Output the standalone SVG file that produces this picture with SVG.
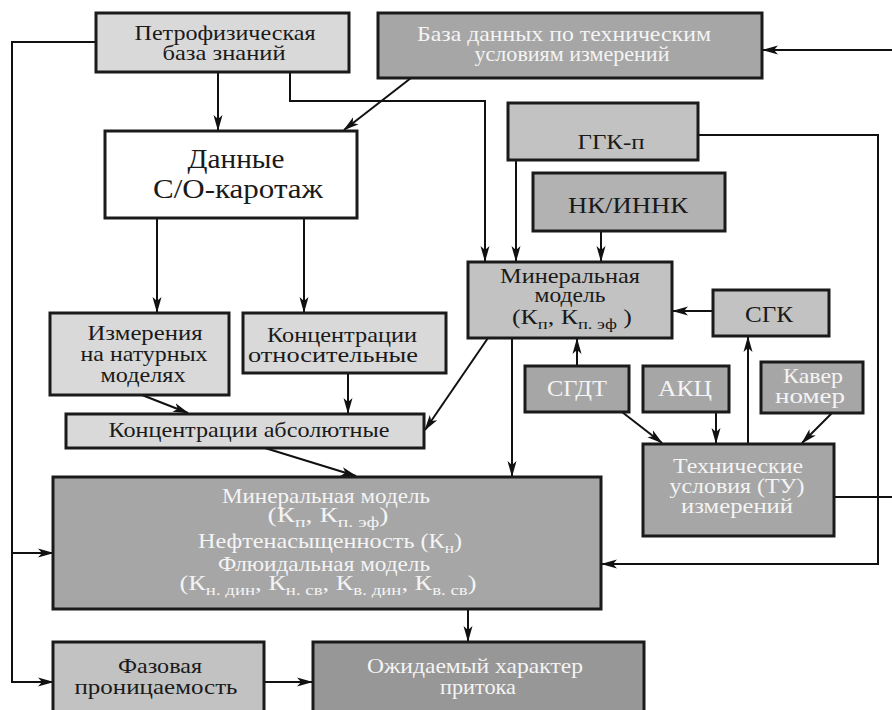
<svg xmlns="http://www.w3.org/2000/svg" width="892" height="710" viewBox="0 0 892 710" font-family="'Liberation Serif', 'Times New Roman', Tinos, 'DejaVu Serif', serif">
<defs>
<marker id="ah" markerWidth="16" markerHeight="10" refX="15" refY="5" orient="auto" markerUnits="userSpaceOnUse">
<path d="M0,0.5 L16,5 L0,9.5 L4,5 Z" fill="#111"/>
</marker>
</defs>
<style>
.b{stroke:#1a1a1a;stroke-width:3}
.l1{fill:#d9d9d9}
.l2{fill:#c2c2c2}
.l3{fill:#b2b2b2}
.d1{fill:#a6a6a6}
.d2{fill:#979797}
.w{fill:#fff}
text{font-size:21px;text-anchor:middle;fill:#1a1a1a}
.wt{fill:#f4f4f4}
.s{font-size:15px}
.c{fill:none;stroke:#111;stroke-width:2}
.a{marker-end:url(#ah)}
</style>
<rect width="892" height="710" fill="#fff"/>
<g id="connectors">
<polyline class="c a" points="96,42 12,42 12,682 53,682"/>
<polyline class="c a" points="12,553 53,553"/>
<line class="c a" x1="892" y1="50" x2="763" y2="50"/>
<line class="c a" x1="218" y1="72" x2="218" y2="130"/>
<polyline class="c a" points="290,72 290,101 485,101 485,261"/>
<line class="c a" x1="411" y1="78" x2="344" y2="130"/>
<line class="c a" x1="157" y1="218" x2="157" y2="312"/>
<line class="c a" x1="304" y1="218" x2="304" y2="312"/>
<line class="c a" x1="348" y1="373" x2="348" y2="413"/>
<line class="c a" x1="142" y1="395" x2="188" y2="413"/>
<line class="c a" x1="488" y1="338" x2="425" y2="430"/>
<line class="c a" x1="265" y1="448" x2="356" y2="476"/>
<line class="c a" x1="516" y1="160" x2="516" y2="261"/>
<line class="c a" x1="601" y1="231" x2="601" y2="261"/>
<polyline class="c a" points="698,135 878,135 878,564 602,564"/>
<line class="c a" x1="713" y1="311" x2="673" y2="311"/>
<line class="c a" x1="577" y1="366" x2="577" y2="339"/>
<line class="c a" x1="622" y1="412" x2="662" y2="443"/>
<line class="c a" x1="716" y1="412" x2="716" y2="443"/>
<line class="c a" x1="832" y1="413" x2="802" y2="443"/>
<line class="c a" x1="748" y1="444" x2="748" y2="337"/>
<line class="c" x1="834" y1="497" x2="892" y2="497"/>
<line class="c a" x1="512" y1="338" x2="512" y2="476"/>
<line class="c a" x1="468" y1="609" x2="468" y2="641"/>
<line class="c a" x1="264" y1="682" x2="312" y2="682"/>
</g>
<g id="petro">
<rect class="b l1" x="96" y="13" width="253" height="59"/>
<text x="225" y="40" textLength="181" lengthAdjust="spacingAndGlyphs">Петрофизическая</text>
<text x="224" y="60" textLength="123" lengthAdjust="spacingAndGlyphs">база знаний</text>
</g>
<g id="bd_tu">
<rect class="b d1" x="378" y="13" width="384" height="65"/>
<text class="wt" x="564" y="41" textLength="294" lengthAdjust="spacingAndGlyphs">База данных по техническим</text>
<text class="wt" x="572" y="61" textLength="195" lengthAdjust="spacingAndGlyphs">условиям измерений</text>
</g>
<g id="dannye">
<rect class="b w" x="105" y="131" width="252" height="87"/>
<text x="236" y="168" style="font-size:28px" textLength="97" lengthAdjust="spacingAndGlyphs">Данные</text>
<text x="238" y="198" style="font-size:28px" textLength="170" lengthAdjust="spacingAndGlyphs">С/О-каротаж</text>
</g>
<g id="ggk">
<rect class="b l2" x="508" y="103" width="190" height="57"/>
<text x="611" y="149" textLength="67" lengthAdjust="spacingAndGlyphs">ГГК-п</text>
</g>
<g id="nk">
<rect class="b l3" x="533" y="173" width="192" height="58"/>
<text x="628" y="213" style="font-size:24px" textLength="120" lengthAdjust="spacingAndGlyphs">НК/ИННК</text>
</g>
<g id="min_small">
<rect class="b l2" x="468" y="262" width="204" height="76"/>
<text x="570" y="283" textLength="140" lengthAdjust="spacingAndGlyphs">Минеральная</text>
<text x="570" y="302" textLength="71" lengthAdjust="spacingAndGlyphs">модель</text>
<text x="572" y="324" textLength="120" lengthAdjust="spacingAndGlyphs">(К<tspan dy="5" class="s">п</tspan><tspan dy="-5">,  К</tspan><tspan dy="5" class="s">п. эф</tspan><tspan dy="-5"> )</tspan></text>
</g>
<g id="sgk">
<rect class="b l2" x="713" y="290" width="116" height="46"/>
<text x="769" y="322" style="font-size:23px" textLength="48" lengthAdjust="spacingAndGlyphs">СГК</text>
</g>
<g id="sgdt">
<rect class="b d1" x="525" y="366" width="104" height="46"/>
<text class="wt" x="577" y="396" style="font-size:23px" textLength="60" lengthAdjust="spacingAndGlyphs">СГДТ</text>
</g>
<g id="akc">
<rect class="b d1" x="643" y="366" width="86" height="46"/>
<text class="wt" x="685" y="396" style="font-size:23px" textLength="54" lengthAdjust="spacingAndGlyphs">АКЦ</text>
</g>
<g id="kaver">
<rect class="b d1" x="761" y="362" width="102" height="51"/>
<text class="wt" x="813" y="383" textLength="60" lengthAdjust="spacingAndGlyphs">Кавер</text>
<text class="wt" x="810" y="403" textLength="70" lengthAdjust="spacingAndGlyphs">номер</text>
</g>
<g id="tu">
<rect class="b d1" x="643" y="444" width="191" height="92"/>
<text class="wt" x="738" y="473" textLength="130" lengthAdjust="spacingAndGlyphs">Технические</text>
<text class="wt" x="737" y="493" textLength="135" lengthAdjust="spacingAndGlyphs">условия (ТУ)</text>
<text class="wt" x="737" y="513" textLength="112" lengthAdjust="spacingAndGlyphs">измерений</text>
</g>
<g id="izm">
<rect class="b l1" x="50" y="313" width="179" height="82"/>
<text x="145" y="340" textLength="115" lengthAdjust="spacingAndGlyphs">Измерения</text>
<text x="144" y="361" textLength="127" lengthAdjust="spacingAndGlyphs">на натурных</text>
<text x="143" y="382" textLength="85" lengthAdjust="spacingAndGlyphs">моделях</text>
</g>
<g id="konc_otn">
<rect class="b l1" x="243" y="313" width="203" height="60"/>
<text x="342" y="342" textLength="150" lengthAdjust="spacingAndGlyphs">Концентрации</text>
<text x="333" y="362" textLength="170" lengthAdjust="spacingAndGlyphs">относительные</text>
</g>
<g id="konc_abs">
<rect class="b l1" x="66" y="414" width="358" height="34"/>
<text x="249" y="437" textLength="281" lengthAdjust="spacingAndGlyphs">Концентрации абсолютные</text>
</g>
<g id="big">
<rect class="b d1" x="53" y="477" width="548" height="132"/>
<text class="wt" x="326" y="503" textLength="208" lengthAdjust="spacingAndGlyphs">Минеральная модель</text>
<text class="wt" x="328" y="522" textLength="121" lengthAdjust="spacingAndGlyphs">(К<tspan dy="5" class="s">п</tspan><tspan dy="-5">,  К</tspan><tspan dy="5" class="s">п. эф</tspan><tspan dy="-5">)</tspan></text>
<text class="wt" x="330" y="548" textLength="264" lengthAdjust="spacingAndGlyphs">Нефтенасыщенность (К<tspan dy="5" class="s">н</tspan><tspan dy="-5">)</tspan></text>
<text class="wt" x="324" y="571" textLength="212" lengthAdjust="spacingAndGlyphs">Флюидальная модель</text>
<text class="wt" x="328" y="590" textLength="297" lengthAdjust="spacingAndGlyphs">(К<tspan dy="5" class="s">н. дин</tspan><tspan dy="-5">,  К</tspan><tspan dy="5" class="s">н. св</tspan><tspan dy="-5">,  К</tspan><tspan dy="5" class="s">в. дин</tspan><tspan dy="-5">,  К</tspan><tspan dy="5" class="s">в. св</tspan><tspan dy="-5">)</tspan></text>
</g>
<g id="faz">
<rect class="b l2" x="53" y="642" width="211" height="80"/>
<text x="160" y="673" textLength="84" lengthAdjust="spacingAndGlyphs">Фазовая</text>
<text x="156" y="694" textLength="163" lengthAdjust="spacingAndGlyphs">проницаемость</text>
</g>
<g id="ozh">
<rect class="b d2" x="313" y="642" width="331" height="80"/>
<text class="wt" x="475" y="673" textLength="216" lengthAdjust="spacingAndGlyphs">Ожидаемый характер</text>
<text class="wt" x="478" y="694" textLength="76" lengthAdjust="spacingAndGlyphs">притока</text>
</g>
</svg>
